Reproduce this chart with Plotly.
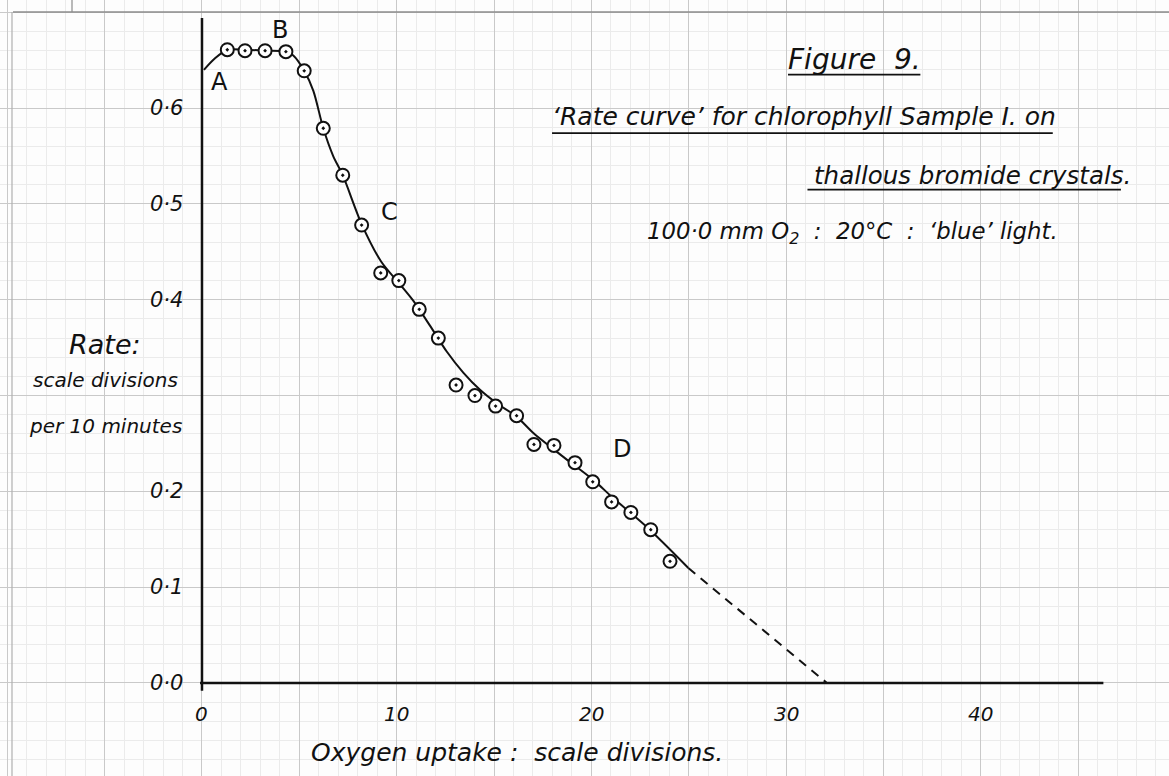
import plotly.graph_objects as go

# ---------------- data ----------------
x_points = [1.30, 2.21, 3.24, 4.31, 5.25, 6.23, 7.23, 8.20, 9.18, 10.11, 11.16, 12.14,
            13.05, 14.02, 15.08, 16.16, 17.05, 18.08, 19.16, 20.07, 21.04, 22.03, 23.05, 24.04]
y_points = [0.661, 0.660, 0.660, 0.659, 0.639, 0.579, 0.530, 0.478, 0.428, 0.420, 0.390, 0.360,
            0.311, 0.300, 0.289, 0.279, 0.249, 0.248, 0.230, 0.210, 0.189, 0.178, 0.160, 0.127]

# hand-drawn smooth curve
curve_x = [0.1, 0.67, 1.30, 2.21, 3.24, 4.31, 4.69, 5.25, 5.72, 6.23, 6.74, 7.23, 8.20, 9.20,
           10.13, 10.85, 11.71, 12.57, 13.42, 14.28, 15.14, 16.16, 17.02, 18.56, 20.10, 21.12,
           22.84, 24.98]
curve_y = [0.640, 0.652, 0.661, 0.661, 0.660, 0.659, 0.655, 0.639, 0.618, 0.579, 0.550, 0.530,
           0.479, 0.440, 0.417, 0.399, 0.373, 0.346, 0.324, 0.306, 0.292, 0.278, 0.261, 0.236,
           0.212, 0.193, 0.163, 0.120]

# dashed extrapolation
extrap_x = [24.98, 32.1]
extrap_y = [0.120, 0.0]

x_tick_vals = [0, 10, 20, 30, 40]
x_tick_text = ["0", "10", "20", "30", "40"]
y_tick_vals = [0.0, 0.1, 0.2, 0.4, 0.5, 0.6]
y_tick_text = ["0·0", "0·1", "0·2", "0·4", "0·5", "0·6"]

point_labels = ["A", "B", "C", "D"]
point_label_x = [0.92, 4.0, 9.62, 21.56]
point_label_y = [0.627, 0.682, 0.492, 0.244]

FONT = "'DejaVu Sans', 'Liberation Sans', sans-serif"
INK = "#111111"

fig = go.Figure()

fig.add_trace(go.Scatter(x=curve_x, y=curve_y, mode="lines",
                         line=dict(color=INK, width=2, shape="spline", smoothing=0.8),
                         hoverinfo="skip", showlegend=False))
fig.add_trace(go.Scatter(x=extrap_x, y=extrap_y, mode="lines",
                         line=dict(color=INK, width=2, dash="9px,7px"),
                         hoverinfo="skip", showlegend=False))
fig.add_trace(go.Scatter(x=x_points, y=y_points, mode="markers",
                         marker=dict(symbol="circle-dot", size=13, color="white",
                                     line=dict(color=INK, width=2)),
                         showlegend=False))

# ---------------- axes drawn as on the paper ----------------
shapes = [
    dict(type="line", xref="x", yref="y", x0=0, y0=-0.008, x1=0, y1=0.694,
         line=dict(color=INK, width=2.5)),
    dict(type="line", xref="x", yref="y", x0=-0.1, y0=0, x1=46.3, y1=0,
         line=dict(color=INK, width=2.5)),
    # underlines of the caption
    dict(type="line", xref="x", yref="y", x0=30.1, y0=0.635, x1=36.9, y1=0.635,
         line=dict(color=INK, width=1.8)),
    dict(type="line", xref="x", yref="y", x0=17.98, y0=0.574, x1=43.7, y1=0.574,
         line=dict(color=INK, width=1.8)),
    dict(type="line", xref="x", yref="y", x0=31.1, y0=0.515, x1=47.2, y1=0.515,
         line=dict(color=INK, width=1.8)),
    # paper frame
    dict(type="line", xref="paper", yref="paper", x0=13 / 1169, y0=1 - 12 / 776, x1=1, y1=1 - 12 / 776,
         line=dict(color="#8c8c8c", width=1.5)),
    dict(type="line", xref="paper", yref="paper", x0=12 / 1169, y0=1 - 12 / 776, x1=12 / 1169, y1=0,
         line=dict(color="#b0b0b0", width=1.2)),
    dict(type="line", xref="paper", yref="paper", x0=72 / 1169, y0=1, x1=72 / 1169, y1=1 - 12 / 776,
         line=dict(color="#8c8c8c", width=1.2)),
]

annotations = []
for v, t in zip(y_tick_vals, y_tick_text):
    annotations.append(dict(x=-0.87, y=v, xref="x", yref="y", text=t, showarrow=False,
                            xanchor="right", yanchor="middle",
                            font=dict(family=FONT, size=21, color=INK, style="italic")))
for v, t in zip(x_tick_vals, x_tick_text):
    annotations.append(dict(x=v, y=-0.032, xref="x", yref="y", text=t, showarrow=False,
                            xanchor="center", yanchor="middle",
                            font=dict(family=FONT, size=20, color=INK, style="italic")))
for t, lx, ly in zip(point_labels, point_label_x, point_label_y):
    annotations.append(dict(x=lx, y=ly, xref="x", yref="y", text=t, showarrow=False,
                            xanchor="center", yanchor="middle",
                            font=dict(family=FONT, size=24, color=INK)))

def txt(x, y, text, size, anchor="center"):
    annotations.append(dict(x=x, y=y, xref="x", yref="y", text=text, showarrow=False,
                            xanchor=anchor, yanchor="middle",
                            font=dict(family=FONT, size=size, color=INK, style="italic")))

txt(33.49, 0.651, "Figure  9.", 28)
txt(30.92, 0.591, "‘Rate curve’ for chlorophyll Sample I. on", 25)
txt(39.6, 0.530, "thallous bromide crystals.", 24.5)
txt(33.41, 0.470, "100·0 mm O<sub>2</sub>  :  20°C  :  ‘blue’ light.", 22.8)
txt(16.2, -0.073, "Oxygen uptake :  scale divisions.", 25)
txt(-4.98, 0.353, "Rate:", 27)
txt(-4.98, 0.316, "scale divisions", 20)
txt(-4.98, 0.268, "per 10 minutes", 20)

fig.update_layout(
    width=1169, height=776,
    margin=dict(l=0, r=0, t=0, b=0),
    paper_bgcolor="#fdfdfd", plot_bgcolor="#fdfdfd",
    shapes=shapes, annotations=annotations,
    xaxis=dict(range=[-10.375, 49.67], showticklabels=False, ticks="", zeroline=False,
               showline=False, showgrid=True, gridcolor="#c9c9c9", gridwidth=1,
               tick0=0, dtick=5,
               minor=dict(showgrid=True, tick0=0, dtick=1, gridcolor="#ebebeb", gridwidth=1)),
    yaxis=dict(range=[-0.0971, 0.7129], showticklabels=False, ticks="", zeroline=False,
               showline=False, showgrid=True, gridcolor="#c9c9c9", gridwidth=1,
               tick0=0, dtick=0.1,
               minor=dict(showgrid=True, tick0=0, dtick=0.02, gridcolor="#ebebeb", gridwidth=1)),
)

fig.write_html("out.html", config={"displayModeBar": False},
               post_script="document.body.style.margin='0';document.body.style.overflow='hidden';")
